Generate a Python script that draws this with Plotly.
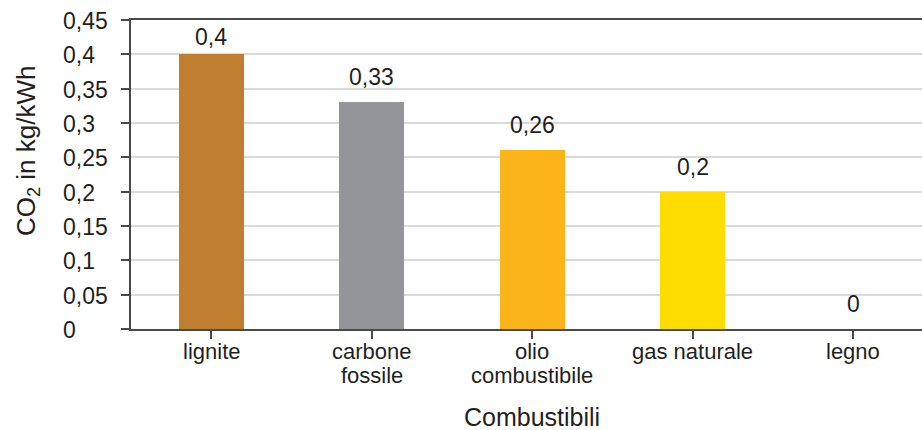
import plotly.graph_objects as go

categories = ["lignite", "carbone\nfossile", "olio\ncombustibile", "gas naturale", "legno"]
values = [0.4, 0.33, 0.26, 0.2, 0.0]
labels = ["0,4", "0,33", "0,26", "0,2", "0"]
colors = ["#C07F30", "#939598", "#FBB41A", "#FFDD00", "#FFDD00"]
y_ticks = [0, 0.05, 0.1, 0.15, 0.2, 0.25, 0.3, 0.35, 0.4, 0.45]
x_title = "Combustibili"
y_title = "CO<sub>2</sub> in kg/kWh"

FONT = "Liberation Sans, Arial, sans-serif"
TXT = "#231F20"
AXIS = "#4A4A4A"

W, H = 922, 430
L, T, B = 131, 20, 101
PLOT_H = H - T - B
PLOT_W = W - L
Y_MAX = 0.45


def px_x(px):
    """Pixel column -> paper x."""
    return (px - L) / PLOT_W


def px_y(py):
    """Pixel row -> paper y."""
    return (H - B - py) / PLOT_H


fig = go.Figure(
    go.Bar(
        x=list(range(len(categories))),
        y=values,
        width=0.405,
        marker=dict(color=colors, line=dict(width=0)),
        hoverinfo="skip",
    )
)

annotations = []

# value labels above the bars, kept clear of the top frame line
for i, (v, lab) in enumerate(zip(values, labels)):
    bar_top_px = H - B - v / Y_MAX * PLOT_H
    centre_px = max(bar_top_px - 25, T + 17)
    annotations.append(dict(
        x=i, xref="x", y=px_y(centre_px), yref="paper",
        text=lab, showarrow=False, yanchor="middle", xanchor="center",
        font=dict(family=FONT, size=23, color=TXT),
    ))

# left-aligned y tick labels
for t in y_ticks:
    annotations.append(dict(
        x=px_x(61), xref="paper", y=t, yref="y",
        text=f"{t:g}".replace(".", ","), showarrow=False,
        xanchor="left", yanchor="middle", yshift=-1,
        font=dict(family=FONT, size=23, color=TXT),
    ))

# category labels, one annotation per line
for i, cat in enumerate(categories):
    for j, line in enumerate(cat.split("\n")):
        annotations.append(dict(
            x=i, xref="x", y=px_y(351 + 24 * j), yref="paper",
            text=line, showarrow=False, xanchor="center", yanchor="middle",
            font=dict(family=FONT, size=22, color=TXT),
        ))

# axis titles
annotations.append(dict(
    x=px_x(532), xref="paper", y=px_y(417), yref="paper",
    text=x_title, showarrow=False, xanchor="center", yanchor="middle",
    font=dict(family=FONT, size=25, color=TXT),
))
annotations.append(dict(
    x=px_x(27), xref="paper", y=px_y(151), yref="paper",
    text=y_title, showarrow=False, textangle=-90,
    xanchor="center", yanchor="middle",
    font=dict(family=FONT, size=26, color=TXT),
))

fig.update_layout(
    width=W,
    height=H,
    margin=dict(l=L, r=0, t=T, b=B),
    paper_bgcolor="white",
    plot_bgcolor="white",
    showlegend=False,
    font=dict(family=FONT, size=22, color=TXT),
    bargap=0,
    annotations=annotations,
)

fig.update_xaxes(
    range=[-0.5, 4.43],
    tickmode="array",
    tickvals=list(range(len(categories))),
    showticklabels=False,
    tickson="boundaries",
    ticks="outside",
    ticklen=8,
    tickwidth=1.5,
    tickcolor=AXIS,
    showline=True,
    mirror=True,
    linecolor=AXIS,
    linewidth=1.5,
    showgrid=False,
    zeroline=False,
    automargin=False,
)

fig.update_yaxes(
    range=[0, Y_MAX],
    tickmode="array",
    tickvals=y_ticks,
    showticklabels=False,
    ticks="outside",
    ticklen=8,
    tickwidth=1.5,
    tickcolor=AXIS,
    showline=True,
    linecolor=AXIS,
    linewidth=1.5,
    showgrid=True,
    gridcolor="#DADADA",
    gridwidth=1.5,
    zeroline=False,
    automargin=False,
)

fig.write_html("out.html")
